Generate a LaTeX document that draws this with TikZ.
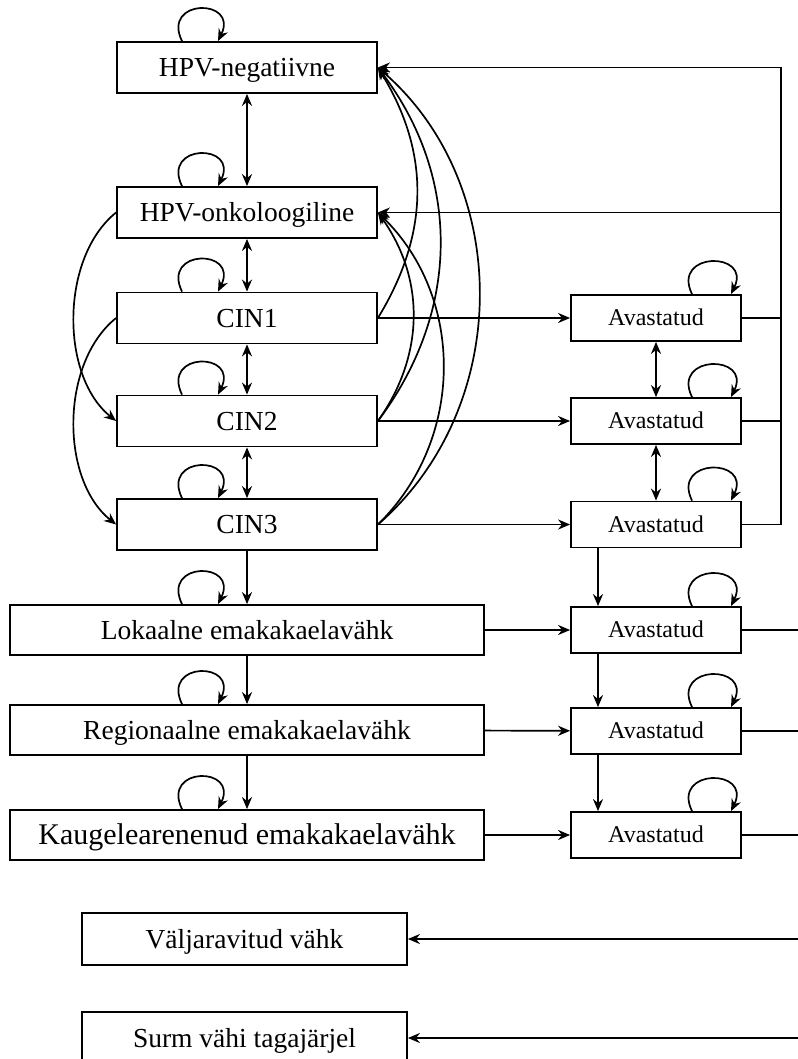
\documentclass[tikz,border=0pt]{standalone}
\usepackage{fontspec}
\setmainfont{Liberation Serif}
\usetikzlibrary{arrows.meta}
% self loop drawn above a box, between two horizontal offsets from its centre
\newcommand\loopabove[3]{\draw[arr] ([xshift=#2]#1.north) .. controls +(-21,-43) and +(21,-43) .. ([xshift=#3]#1.north);}
\begin{document}
\begin{tikzpicture}[x=1pt,y=-1pt,
  box/.style={draw, line width=1.8pt, minimum width=260pt, minimum height=51pt, inner sep=0pt,
    font=\fontsize{27.5}{30}\selectfont, text height=18.2pt, text depth=0pt},
  wide/.style={box, minimum width=474pt, minimum height=50pt},
  endbox/.style={box, minimum width=325pt, minimum height=52pt},
  found/.style={box, minimum width=170pt, minimum height=46pt,
    font=\fontsize{24}{27}\selectfont, text height=15.9pt, text depth=0pt},
  link/.style={line width=1.7pt},
  arr/.style={link, -{Stealth[length=12pt,width=10pt]}},
  darr/.style={link, {Stealth[length=12pt,width=10pt]}-{Stealth[length=12pt,width=10pt]}},
]
\useasboundingbox (0,0) rectangle (797,1059);

% disease states
\node[box] (neg) at (247,67.5) {HPV-negatiivne};
\node[box] (onk) at (247,212.5) {HPV-onkoloogiline};
\node[box] (cin1) at (247,318) {CIN1};
\node[box] (cin2) at (247,421) {CIN2};
\node[box] (cin3) at (247,524.5) {CIN3};
\node[wide] (lok) at (247,630) {Lokaalne emakakaelavähk};
\node[wide] (reg) at (247,730) {Regionaalne emakakaelavähk};
\node[wide, font=\fontsize{30}{33}\selectfont, text height=19.8pt] (kau) at (247,835) {Kaugelearenenud emakakaelavähk};
\node[endbox] (valj) at (244.5,939) {Väljaravitud vähk};
\node[endbox] (surm) at (244.5,1038) {Surm vähi tagajärjel};

% detected states
\node[found] (a1) at (656,318) {Avastatud};
\node[found] (a2) at (656,421) {Avastatud};
\node[found] (a3) at (656,524.5) {Avastatud};
\node[found] (a4) at (656,630) {Avastatud};
\node[found] (a5) at (656,731) {Avastatud};
\node[found] (a6) at (656,835) {Avastatud};

\coordinate (bus) at (781,0);
\coordinate (edge) at (800,0);

% self loops
\foreach \n in {neg,onk,cin1,cin2,cin3,lok,reg,kau}{\loopabove{\n}{-65pt}{-29pt}}
\foreach \n in {a1,a2,a3,a4,a5,a6}{\loopabove{\n}{36pt}{75pt}}

% vertical transitions
\draw[darr] (neg) -- (onk);
\draw[darr] (onk) -- (cin1);
\draw[darr] (cin1) -- (cin2);
\draw[darr] (cin2) -- (cin3);
\draw[arr] (cin3) -- (lok);
\draw[arr] (lok) -- (reg);
\draw[arr] (reg) -- (kau);
\draw[darr] (a1) -- (a2);
\draw[darr] (a2) -- (a3);
\draw[arr] ([xshift=-58pt]a3.south) -- ([xshift=-58pt]a4.north);
\draw[arr] ([xshift=-58pt]a4.south) -- ([xshift=-58pt]a5.north);
\draw[arr] ([xshift=-58pt]a5.south) -- ([xshift=-58pt]a6.north);

% detection
\draw[arr] (cin1) -- (a1);
\draw[arr] (cin2) -- (a2);
\draw[arr] (cin3) -- (a3);
\draw[arr] (lok) -- (a4);
\draw[arr] (reg) -- (a5);
\draw[arr] (kau) -- (a6);

% regression back to HPV states (right side)
\draw[arr] (cin1.east) .. controls +(52,-85) and +(52,85) .. (neg.east);
\draw[arr] (cin2.east) .. controls +(83,-110) and +(83,110) .. (neg.east);
\draw[arr] (cin3.east) .. controls +(135,-117) and +(135,117) .. (neg.east);
\draw[arr] (cin2.east) .. controls +(47,-66) and +(47,66) .. (onk.east);
\draw[arr] (cin3.east) .. controls +(87,-85) and +(87,85) .. (onk.east);

% progression skipping a stage (left side)
\draw[arr] (onk.west) .. controls +(-56,45) and +(-56,-45) .. (cin2.west);
\draw[arr] (cin1.west) .. controls +(-56,45) and +(-56,-45) .. (cin3.west);

% treated precancer returns to HPV states
\draw[link] (a1.east) -- (bus |- a1.east);
\draw[link] (a2.east) -- (bus |- a2.east);
\draw[link] (a3.east) -- (bus |- a3.east) -- (bus |- neg.east);
\draw[arr] (bus |- neg.east) -- (neg.east);
\draw[arr] (bus |- onk.east) -- (onk.east);

% detected cancers leave to the right
\draw[link] (a4.east) -- (edge |- a4.east);
\draw[link] (a5.east) -- (edge |- a5.east);
\draw[link] (a6.east) -- (edge |- a6.east);
\draw[arr] (edge |- valj.east) -- (valj.east);
\draw[arr] (edge |- surm.east) -- (surm.east);
\end{tikzpicture}
\end{document}
